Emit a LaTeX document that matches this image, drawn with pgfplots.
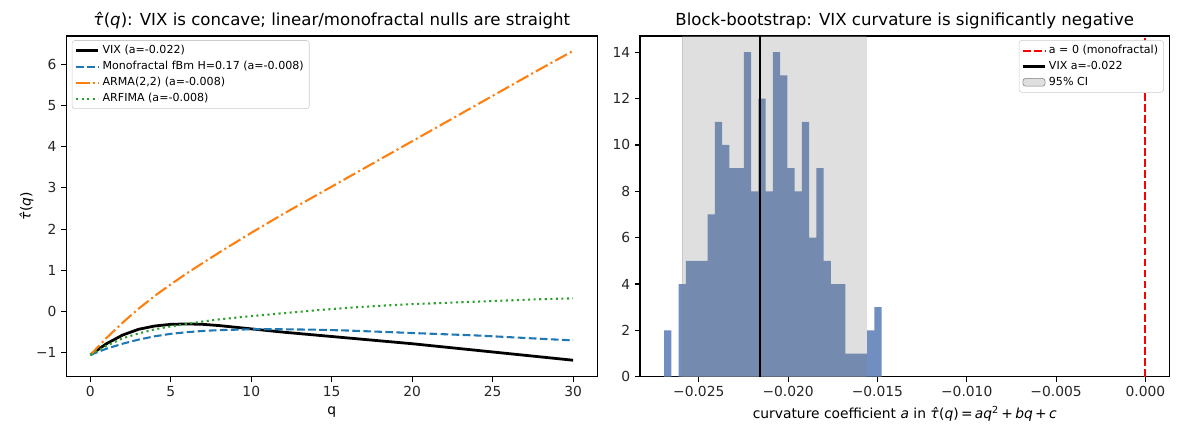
\documentclass[border=0pt]{standalone}
\usepackage{fontspec}
\setmainfont{DejaVu Sans}
\usepackage{pgfplots}
\pgfplotsset{compat=1.18}
\definecolor{tabblue}{HTML}{1F77B4}
\definecolor{taborange}{HTML}{FF7F0E}
\definecolor{tabgreen}{HTML}{2CA02C}
\definecolor{histc}{RGB}{112,142,192}
\newcommand{\tauhat}{\textit{τ̂}}
\pgfplotsset{
  mpl/.style={
    scale only axis,
    anchor=south west,
    tick align=outside,
    tick pos=left,
    major tick length=3.5bp,
    every tick/.style={black, line width=0.8bp},
    axis line style={line width=0.8bp},
    /pgf/number format/assume math mode=true,
    tick label style={font=\fontsize{10}{12}\selectfont, text=black!85},
    label style={font=\fontsize{10}{12}\selectfont},
    title style={font=\fontsize{12}{14.4}\selectfont, at={(0.5,1)}, anchor=south, inner sep=0pt, yshift=-1bp},
    legend cell align=left,
    legend image code/.code={\draw[##1] (0bp,0bp) -- (16bp,0bp);},
  }
}
\begin{document}
\begin{tikzpicture}
\useasboundingbox (0,0) rectangle (850.32bp,311.04bp);
\begin{axis}[mpl,
  at={(47.7bp,39.8bp)},
  width=382.3bp, height=245.3bp,
  xmin=-1.5, xmax=31.5, ymin=-1.58, ymax=6.68,
  xtick={0,5,10,15,20,25,30}, xticklabels={0,5,10,15,20,25,30},
  ytick={-1,0,1,2,3,4,5,6}, yticklabels={−1,0,1,2,3,4,5,6},
  title={\tauhat(\textit{q}): VIX is concave; linear/monofractal nulls are straight},
  xlabel={q}, ylabel={\tauhat(\textit{q})},
  ylabel shift=-5bp,
  legend style={at={(0,1)}, anchor=north west, xshift=4bp, yshift=-3bp,
    draw=black!20, fill=white, rounded corners=2bp,
    font=\fontsize{8}{9.6}\selectfont, inner xsep=2bp, inner ysep=1.5bp, row sep=0pt},
]
\addplot[black, line width=2bp] coordinates {
(0,-1.05) (1,-0.78) (2,-0.57) (3,-0.43) (4,-0.35) (5,-0.31) (6,-0.30) (7,-0.31)
(8,-0.34) (9,-0.38) (10,-0.42) (12,-0.50) (14,-0.57) (16,-0.64) (18,-0.71)
(20,-0.78) (22,-0.86) (24,-0.94) (26,-1.02) (28,-1.10) (30,-1.18)};
\addlegendentry{VIX (a=-0.022)}
\addplot[tabblue, line width=1.5bp, dash pattern=on 5.55bp off 2.4bp] coordinates {
(0,-1.05) (1,-0.90) (2,-0.78) (3,-0.68) (4,-0.60) (5,-0.54) (6,-0.50) (7,-0.47)
(8,-0.45) (9,-0.44) (10,-0.43) (12,-0.43) (14,-0.44) (16,-0.46) (18,-0.49)
(20,-0.52) (22,-0.55) (24,-0.58) (26,-0.62) (28,-0.66) (30,-0.70)};
\addlegendentry{Monofractal fBm H=0.17 (a=-0.008)}
\addplot[taborange, line width=1.5bp, dash pattern=on 9.6bp off 2.4bp on 1.5bp off 2.4bp] coordinates {
(0,-1.05) (1,-0.64) (2,-0.27) (3,0.07) (4,0.38) (5,0.66) (6,0.93) (7,1.18)
(8,1.43) (9,1.67) (10,1.91) (12,2.37) (14,2.81) (16,3.25) (18,3.69)
(20,4.13) (22,4.57) (24,5.01) (26,5.45) (28,5.89) (30,6.32)};
\addlegendentry{ARMA(2,2) (a=-0.008)}
\addplot[tabgreen, line width=1.5bp, dash pattern=on 1.5bp off 2.5bp] coordinates {
(0,-1.05) (1,-0.83) (2,-0.65) (3,-0.53) (4,-0.43) (5,-0.36) (6,-0.30) (7,-0.24)
(8,-0.19) (9,-0.15) (10,-0.11) (12,-0.04) (14,0.03) (16,0.09) (18,0.14)
(20,0.18) (22,0.21) (24,0.24) (26,0.27) (28,0.30) (30,0.32)};
\addlegendentry{ARFIMA (a=-0.008)}
\end{axis}

\begin{axis}[mpl,
  at={(460.8bp,39.8bp)},
  width=381.2bp, height=245.3bp,
  xmin=-0.02829, xmax=0.001347, ymin=0, ymax=14.7,
  scaled x ticks=false,
  xtick={-0.025,-0.02,-0.015,-0.01,-0.005,0},
  xticklabels={−0.025,−0.020,−0.015,−0.010,−0.005,0.000},
  ytick={0,2,4,6,8,10,12,14}, yticklabels={0,2,4,6,8,10,12,14},
  title={Block-bootstrap: VIX curvature is significantly negative},
  xlabel={curvature coefficient \textit{a} in \tauhat(\textit{q})\,=\,\textit{aq}\textsuperscript{2}\,+\,\textit{bq}\,+\,\textit{c}},
  legend style={at={(1,1)}, anchor=north east, xshift=-4bp, yshift=-3bp,
    draw=black!20, fill=white, rounded corners=2bp,
    font=\fontsize{8}{9.6}\selectfont, inner xsep=2bp, inner ysep=1.5bp, row sep=0pt},
]
\addplot[ybar interval, fill=histc, draw=none, forget plot] coordinates {
(-0.026946,2) (-0.026540,0) (-0.026134,4) (-0.025728,5) (-0.025322,5)
(-0.024916,5) (-0.024510,7) (-0.024104,11) (-0.023698,10) (-0.023292,9)
(-0.022886,9) (-0.022480,14) (-0.022074,8) (-0.021668,12) (-0.021262,8)
(-0.020856,14) (-0.020450,13) (-0.020044,9) (-0.019638,8) (-0.019232,11)
(-0.018826,6) (-0.018420,9) (-0.018014,5) (-0.017608,4) (-0.017202,4)
(-0.016796,1) (-0.016390,1) (-0.015984,1) (-0.015578,2) (-0.015172,3)
(-0.014766,0)};
\addplot[fill=gray, fill opacity=0.25, draw=gray, draw opacity=0.25, forget plot] coordinates {
(-0.02592,0) (-0.02592,14.7) (-0.01564,14.7) (-0.01564,0)} -- cycle;
\addplot[red, line width=1.5bp, dash pattern=on 5.55bp off 2.4bp] coordinates {(0,0) (0,14.7)};
\addlegendentry{a = 0 (monofractal)}
\addplot[black, line width=1.5bp] coordinates {(-0.02159,0) (-0.02159,14.7)};
\addlegendentry{VIX a=-0.022}
\addlegendimage{legend image code/.code={\fill[gray, fill opacity=0.25] (0bp,-2.8bp) rectangle (16bp,2.8bp);}}
\addlegendentry{95\% CI}
\end{axis}
\end{tikzpicture}
\end{document}
